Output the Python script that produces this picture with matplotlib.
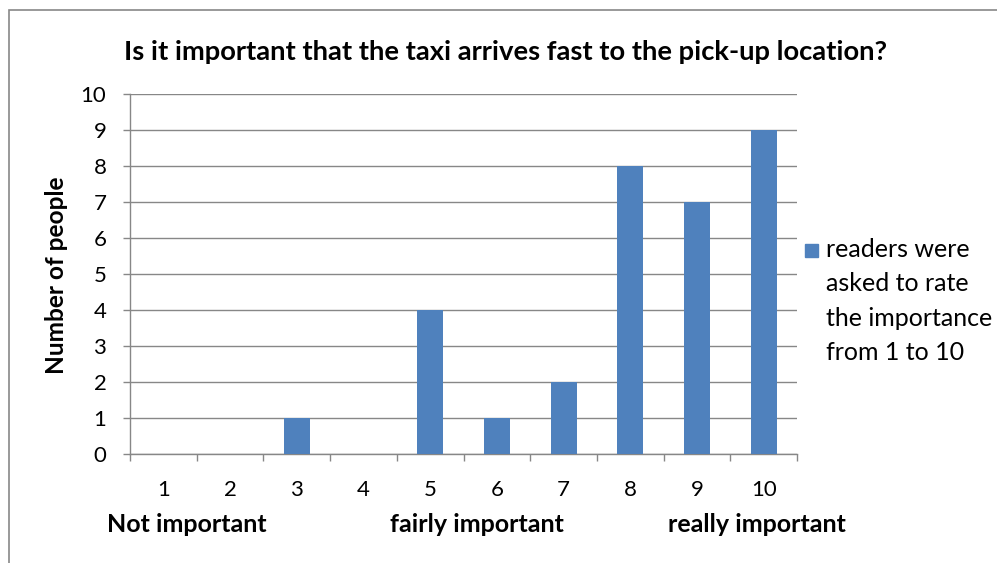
import matplotlib.pyplot as plt
from matplotlib.patches import Rectangle

# ratings 1..10 and how many readers chose each one
ratings = [1, 2, 3, 4, 5, 6, 7, 8, 9, 10]
people = [0, 0, 1, 0, 4, 1, 2, 8, 7, 9]
scale_labels = ['Not important', 'fairly important', 'really important']
scale_x = [187, 477, 757]

bar_color = '#4F81BD'
grid_color = '#878787'
plt.rcParams['font.family'] = ['Lato', 'DejaVu Sans']

fig = plt.figure(figsize=(9.97, 5.63), dpi=100)
W, H = 997, 563

# outer chart frame (runs off the right and bottom edges)
fig.patches.append(Rectangle((9 / W, -0.05), 1.1, 1 - 10 / H + 0.05,
                             transform=fig.transFigure, fill=False,
                             edgecolor=grid_color, linewidth=1.2))

ax = fig.add_axes([130 / W, 1 - 454 / H, (797 - 130) / W, (454 - 94) / H])
ax.bar(ratings, people, width=0.39, color=bar_color, zorder=3)

ax.set_xlim(0.5, 10.5)
ax.set_ylim(0, 10)
ax.set_yticks(range(0, 11))
ax.yaxis.grid(True, color=grid_color, linewidth=1)
ax.set_axisbelow(True)

for side in ['top', 'right']:
    ax.spines[side].set_visible(False)
for side in ['left', 'bottom']:
    ax.spines[side].set_color(grid_color)
    ax.spines[side].set_linewidth(1)

ax.tick_params(axis='y', length=5, width=1, color=grid_color, pad=12, labelsize=16)
ax.set_xticks([r + 0.5 for r in [0] + ratings])
ax.set_xticklabels([])
ax.tick_params(axis='x', which='major', length=5, width=1, color=grid_color)
ax.set_xticks(ratings, minor=True)
ax.set_xticklabels([str(r) for r in ratings], minor=True)
ax.tick_params(axis='x', which='minor', length=0, pad=19, labelsize=16)

fig.text(506 / W, 1 - 52 / H,
         'Is it important that the taxi arrives fast to the pick-up location?',
         ha='center', va='center', fontsize=19.7, fontweight='bold')
fig.text(57 / W, 1 - 275 / H, 'Number of people', rotation=90,
         ha='center', va='center', fontsize=17.6, fontweight='bold')

for lab, x in zip(scale_labels, scale_x):
    fig.text(x / W, 1 - 525 / H, lab,
             ha='center', va='center', fontsize=18, fontweight='bold')

# legend: swatch plus wrapped series name
fig.patches.append(Rectangle((805 / W, 1 - 257 / H), 13 / W, 13 / H,
                             transform=fig.transFigure, color=bar_color))
fig.text(826 / W, 1 - 238 / H,
         'readers were\nasked to rate\nthe importance\nfrom 1 to 10',
         ha='left', va='top', fontsize=18, linespacing=1.6)

fig.savefig('out.png', dpi=100)
